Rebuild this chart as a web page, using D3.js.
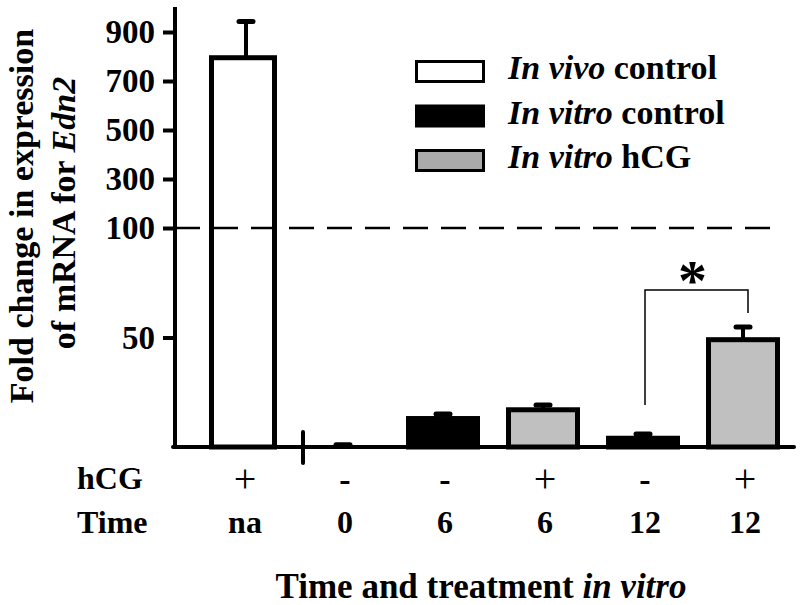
<!DOCTYPE html>
<html>
<head>
<meta charset="utf-8">
<script src="https://cdn.jsdelivr.net/npm/d3@7"></script>
<style>
  html, body { margin: 0; padding: 0; background: #fff; }
  svg text { font-family: "Liberation Serif", "Times New Roman", serif; font-weight: bold; fill: #000; }
</style>
</head>
<body>
<svg id="chart" width="800" height="605"></svg>
<script>
// ---- data ----
const groups = ["In vivo control", "In vitro control", "In vitro hCG"];
const barGroup = [0, 1, 1, 2, 1, 2];
const hcgLabels = ["+", "-", "-", "+", "-", "+"];
const timeLabels = ["na", "0", "6", "6", "12", "12"];
const means = [795, 0.2, 13, 17, 4, 49];
const errTops = [943, 1.0, 15.1, 19.2, 5.9, 54.8];
const yTicks = [50, 100, 300, 500, 700, 900];
const sigPair = [4, 5];

// ---- layout ----
const svg = d3.select("#chart");
const fills = ["#ffffff", "#000000", "#c0c0c0"];
const legendFills = ["#ffffff", "#000000", "#aaaaaa"];

const y = d3.scaleLinear().domain([0, 100, 900]).range([447, 228, 32]);
const x = d3.scaleBand().domain(d3.range(means.length)).range([193, 793])
  .paddingInner(0.26).paddingOuter(0.13);
const bw = x.bandwidth();
const cx = i => x(i) + bw / 2;

// bars
svg.selectAll("rect.bar").data(means).enter().append("rect")
  .attr("class", "bar")
  .attr("x", (d, i) => x(i) + 2.5 + (i === 0 ? 3 : 0))
  .attr("width", (d, i) => bw - 5 - (i === 0 ? 6 : 0))
  .attr("y", d => y(d))
  .attr("height", d => y(0) - y(d))
  .attr("fill", (d, i) => fills[barGroup[i]])
  .attr("stroke", (d, i) => i === 1 ? "none" : "#000").attr("stroke-width", 5);

// dashed reference line at 100
svg.append("line")
  .attr("x1", 175).attr("x2", 782).attr("y1", y(100)).attr("y2", y(100))
  .attr("stroke", "#000").attr("stroke-width", 2.5).attr("stroke-dasharray", "25,13");

// error bars
const eb = svg.append("g");
means.forEach((m, i) => {
  const ex = cx(i) + (i === 0 ? 3 : 0);
  eb.append("line").attr("x1", ex).attr("x2", ex).attr("y1", y(m)).attr("y2", y(errTops[i]))
    .attr("stroke", "#000").attr("stroke-width", 4);
  eb.append("line").attr("x1", ex - 7).attr("x2", ex + 7).attr("y1", y(errTops[i])).attr("y2", y(errTops[i]))
    .attr("stroke", "#000").attr("stroke-width", 5).attr("stroke-linecap", "round");
});

// axes
const yAxis = d3.axisLeft(y).tickValues(yTicks).tickSize(12).tickPadding(8).tickFormat(d3.format("d"));
const gy = svg.append("g").attr("transform", "translate(175,0)").call(yAxis);
gy.select(".domain").remove();
gy.selectAll(".tick line").attr("stroke", "#000").attr("stroke-width", 4);
gy.selectAll(".tick text").attr("font-size", 33).attr("fill", "#000")
  .style("font-family", '"Liberation Serif", "Times New Roman", serif').style("font-weight", "bold");

svg.append("line").attr("x1", 175).attr("x2", 175).attr("y1", 7).attr("y2", 449)
  .attr("stroke", "#000").attr("stroke-width", 4);
svg.append("line").attr("x1", 173).attr("x2", 794).attr("y1", 447).attr("y2", 447)
  .attr("stroke", "#000").attr("stroke-width", 4).attr("stroke-linecap", "round");
// axis break mark
svg.append("line").attr("x1", 303).attr("x2", 303).attr("y1", 432).attr("y2", 463)
  .attr("stroke", "#000").attr("stroke-width", 4).attr("stroke-linecap", "round");

// significance bracket
const bx1 = cx(sigPair[0]) + 2, bx2 = cx(sigPair[1]) + 5;
const by = 290;
svg.append("path")
  .attr("d", `M${bx1},${y(errTops[sigPair[0]]) - 29}V${by}H${bx2}V${y(errTops[sigPair[1]]) - 14}`)
  .attr("fill", "none").attr("stroke", "#000").attr("stroke-width", 1.5);
svg.append("text").attr("x", (bx1 + bx2) / 2 - 4).attr("y", 300).attr("text-anchor", "middle")
  .attr("font-size", 58).text("*");

// category labels
svg.selectAll("text.hcg").data(hcgLabels).enter().append("text")
  .attr("x", (d, i) => cx(i) + 2).attr("y", d => d === "+" ? 492 : 491).attr("text-anchor", "middle")
  .attr("font-size", d => d === "+" ? 40 : 34).style("font-weight", d => d === "+" ? "normal" : "bold")
  .text(d => d);
svg.selectAll("text.time").data(timeLabels).enter().append("text")
  .attr("x", (d, i) => cx(i) + 2).attr("y", 533).attr("text-anchor", "middle")
  .attr("font-size", 32).text(d => d);
svg.append("text").attr("x", 77).attr("y", 489).attr("font-size", 32).text("hCG");
svg.append("text").attr("x", 77).attr("y", 533).attr("font-size", 32).text("Time");

// x title
const xt = svg.append("text").attr("x", 481).attr("y", 598).attr("text-anchor", "middle").attr("font-size", 35);
xt.append("tspan").text("Time and treatment ");
xt.append("tspan").style("font-style", "italic").text("in vitro");

// y title
svg.append("text").attr("transform", "translate(33,216) rotate(-90)")
  .attr("text-anchor", "middle").attr("font-size", 34).text("Fold change in expression");
const yt2 = svg.append("text").attr("transform", "translate(75,213) rotate(-90)")
  .attr("text-anchor", "middle").attr("font-size", 34);
yt2.append("tspan").text("of mRNA for ");
yt2.append("tspan").style("font-style", "italic").text("Edn2");

// legend
const lg = svg.append("g");
const legendItalic = ["In vivo", "In vitro", "In vitro"];
const legendRest = [" control", " control", " hCG"];
groups.forEach((g, i) => {
  const ly = 60 + i * 44.5;
  lg.append("rect").attr("x", 416.5).attr("y", ly + 1.5).attr("width", 67).attr("height", 20)
    .attr("fill", legendFills[i]).attr("stroke", "#000").attr("stroke-width", 3);
  const t = lg.append("text").attr("x", 508).attr("y", ly + 19).attr("font-size", 34);
  t.append("tspan").style("font-style", "italic").text(legendItalic[i]);
  t.append("tspan").text(legendRest[i]);
});
</script>
</body>
</html>
